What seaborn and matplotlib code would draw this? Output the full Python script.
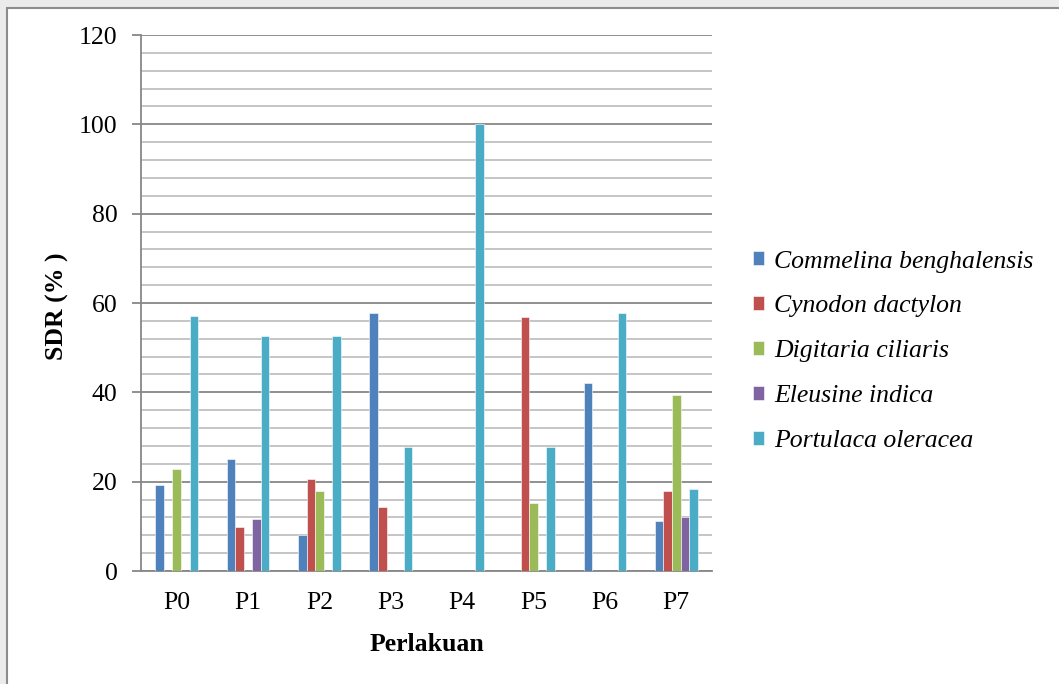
import pandas as pd
import numpy as np
import matplotlib.pyplot as plt
import seaborn as sns
from matplotlib.patches import Rectangle
from matplotlib.ticker import MultipleLocator

# data
perlakuan = ["P0", "P1", "P2", "P3", "P4", "P5", "P6", "P7"]
species = ["Commelina benghalensis", "Cynodon dactylon", "Digitaria ciliaris",
           "Eleusine indica", "Portulaca oleracea"]
commelina = [19.3, 25.1, 8.1, 57.7, 0, 0, 42.0, 11.2]
cynodon = [0, 9.9, 20.6, 14.4, 0, 56.8, 0, 17.9]
digitaria = [22.8, 0, 17.9, 0, 0, 15.2, 0, 39.4]
eleusine = [0, 11.7, 0, 0, 0, 0, 0, 12.2]
portulaca = [57.2, 52.7, 52.7, 27.8, 100, 27.8, 57.7, 18.4]
colors = ["#4F81BD", "#C0504D", "#9BBB59", "#8064A2", "#4BACC6"]

rows = []
for sp, vals in zip(species, [commelina, cynodon, digitaria, eleusine, portulaca]):
    for p, v in zip(perlakuan, vals):
        rows.append({"Perlakuan": p, "Spesies": sp, "SDR": v})
df = pd.DataFrame(rows)

sns.set_style("white")
plt.rcParams['font.family'] = ['Liberation Serif', 'DejaVu Serif']
plt.rcParams['text.color'] = 'black'
plt.rcParams['axes.labelcolor'] = 'black'

fig = plt.figure(figsize=(10.59, 6.84), dpi=100)
fig.patch.set_facecolor("#EBEBEB")
# white chart box with grey border
fig.patches.append(Rectangle((7/1059, -0.1), 1.2, 1 - 8/684 + 0.1,
                             transform=fig.transFigure, facecolor="white",
                             edgecolor="#8C8C8C", linewidth=1.5, zorder=-5))

ax = fig.add_axes([141/1059, 1 - 571/684, (712 - 141)/1059, (571 - 35)/684])
ax.set_facecolor("white")

sns.barplot(data=df, x="Perlakuan", y="SDR", hue="Spesies", hue_order=species,
            order=perlakuan, palette=colors, saturation=1, width=0.6, errorbar=None,
            edgecolor="white", linewidth=0.4, ax=ax, zorder=3)

ax.set_ylim(0, 120)
ax.set_xlim(-0.5, 7.5)
ax.yaxis.set_major_locator(MultipleLocator(20))
ax.yaxis.set_minor_locator(MultipleLocator(4))
ax.grid(which="major", axis="y", color="#878787", linewidth=1.3, zorder=1)
ax.grid(which="minor", axis="y", color="#C0C0C0", linewidth=1.3, zorder=1)
ax.set_axisbelow(True)

for s in ["top", "right"]:
    ax.spines[s].set_visible(False)
for s in ["left", "bottom"]:
    ax.spines[s].set_color("#878787")
    ax.spines[s].set_linewidth(1.3)

ax.tick_params(axis="y", which="major", length=6.5, width=1.3, color="#878787",
               pad=10.5, labelsize=18.5, labelcolor="black", left=True)
ax.tick_params(axis="y", which="minor", length=0)
ax.tick_params(axis="x", length=0, pad=15, labelsize=18.5, labelcolor="black")

ax.set_xlabel("Perlakuan", fontsize=18.5, fontweight="bold", labelpad=14)
ax.set_ylabel("SDR (% )", fontsize=18.5, fontweight="bold")
ax.yaxis.set_label_coords(-0.1257, 0.494)

handles, labels = ax.get_legend_handles_labels()
ax.legend(handles, labels, loc="center left", bbox_to_anchor=(1.0305, 0.41),
          frameon=False, prop={"family": "Liberation Serif", "style": "italic", "size": 18.5},
          handlelength=0.45, handleheight=0.45, handletextpad=0.4, labelspacing=0.89,
          labelcolor="black")

fig.savefig("out.png", dpi=100, facecolor=fig.get_facecolor())
